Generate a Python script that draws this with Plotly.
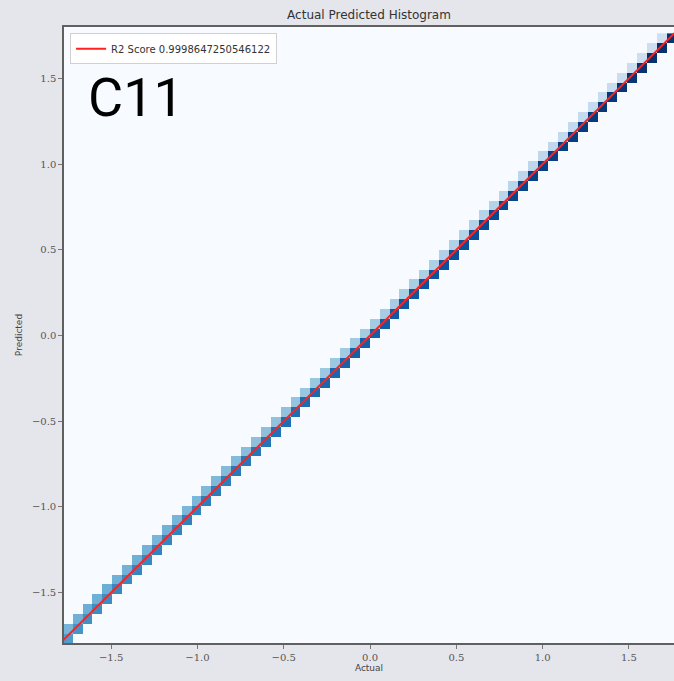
import numpy as np
import plotly.graph_objects as go

# ---- data ----
n_bins = 62
hist_lo, hist_hi = -1.78, 1.78
# counts in the diagonal cells (lower-left -> upper-right)
diag_counts = [58, 61, 63, 64, 64, 66, 65, 67, 66, 68,
               67, 68, 69, 68, 70, 71, 70, 72, 72, 73,
               74, 75, 76, 76, 77, 78, 79, 79, 80, 81,
               82, 82, 83, 84, 85, 85, 86, 86, 87, 88,
               88, 89, 90, 90, 91, 92, 92, 93, 94, 94,
               95, 95, 96, 96, 97, 97, 98, 98, 99, 100,
               100, 99]
# counts in the cell just above each diagonal cell
upper_counts = [47, 49, 50, 49, 50, 49, 48, 49, 48, 47,
                48, 47, 46, 46, 45, 45, 44, 44, 43, 42,
                42, 41, 41, 40, 39, 39, 38, 38, 37, 37,
                36, 36, 35, 35, 34, 34, 33, 33, 32, 32,
                31, 31, 30, 30, 29, 29, 28, 28, 27, 27,
                26, 26, 25, 25, 24, 24, 23, 23, 22, 22,
                21]
r2_label = "R2 Score 0.9998647250546122"
line_x = [-1.78, 1.78]
line_y = [-1.78, 1.78]
tick_vals = [-1.5, -1.0, -0.5, 0.0, 0.5, 1.0, 1.5]
tick_text = ["\u22121.5", "\u22121.0", "\u22120.5", "0.0", "0.5", "1.0", "1.5"]

# ---- build histogram grid ----
d = (hist_hi - hist_lo) / n_bins
x_centers = hist_lo + d * (np.arange(n_bins) + 0.5)
y_centers = x_centers - 0.3 * d
z = np.zeros((n_bins, n_bins))
for i, c in enumerate(diag_counts):
    z[i, i] = c
for i, c in enumerate(upper_counts):
    z[i + 1, i] = c

blues = [[0.0, "#f7fbff"], [0.125, "#deebf7"], [0.25, "#c6dbef"],
         [0.375, "#9ecae1"], [0.5, "#6baed6"], [0.625, "#4292c6"],
         [0.75, "#2171b5"], [0.875, "#08519c"], [1.0, "#08306b"]]

fig = go.Figure()
fig.add_trace(go.Heatmap(x=x_centers, y=y_centers, z=z, colorscale=blues,
                         zmin=0, zmax=100, showscale=False, hoverinfo="skip",
                         showlegend=False))
fig.add_trace(go.Scatter(x=line_x, y=line_y, mode="lines", name=r2_label,
                         line=dict(color="#ff2020", width=2), showlegend=True))

axis_common = dict(showgrid=False, zeroline=False, showline=True,
                   linecolor="#606060", linewidth=1.5, ticks="outside", ticklen=4,
                   tickcolor="#777777", tickvals=tick_vals, ticktext=tick_text,
                   tickfont=dict(family="DejaVu Serif", size=10, color="#555555"))

fig.update_layout(
    width=674, height=681,
    margin=dict(l=64, r=0, t=27, b=38),
    paper_bgcolor="#e5e5ec", plot_bgcolor="#f7fbff",
    title=dict(text="Actual Predicted Histogram", x=0.5, xanchor="center",
               y=0.985, yanchor="top", xref="paper",
               font=dict(family="DejaVu Sans", size=12, color="#333333")),
    xaxis=dict(range=[-1.773, 1.761], mirror=True,
               title=dict(text="Actual", standoff=3,
                          font=dict(family="DejaVu Sans", size=9, color="#444444")),
               **axis_common),
    yaxis=dict(range=[-1.794, 1.80], mirror=False,
               title=dict(text="Predicted", standoff=8,
                          font=dict(family="DejaVu Sans", size=9, color="#444444")),
               **axis_common),
    legend=dict(x=0.01, y=0.99, xanchor="left", yanchor="top",
                bgcolor="white", bordercolor="#d0d0d0", borderwidth=1,
                font=dict(family="DejaVu Sans", size=10, color="#333333"),
                itemwidth=30),
    annotations=[dict(text="C11", x=0.036, y=0.886, xref="paper", yref="paper",
                      xanchor="left", yanchor="middle", showarrow=False,
                      font=dict(family="Roboto", size=54, color="black"))],
)

fig.write_html("out.html", config={"displayModeBar": False},
               post_script="document.body.style.margin='0';"
                           "document.documentElement.style.background='#e5e5ec';"
                           "document.body.style.overflow='hidden';")
